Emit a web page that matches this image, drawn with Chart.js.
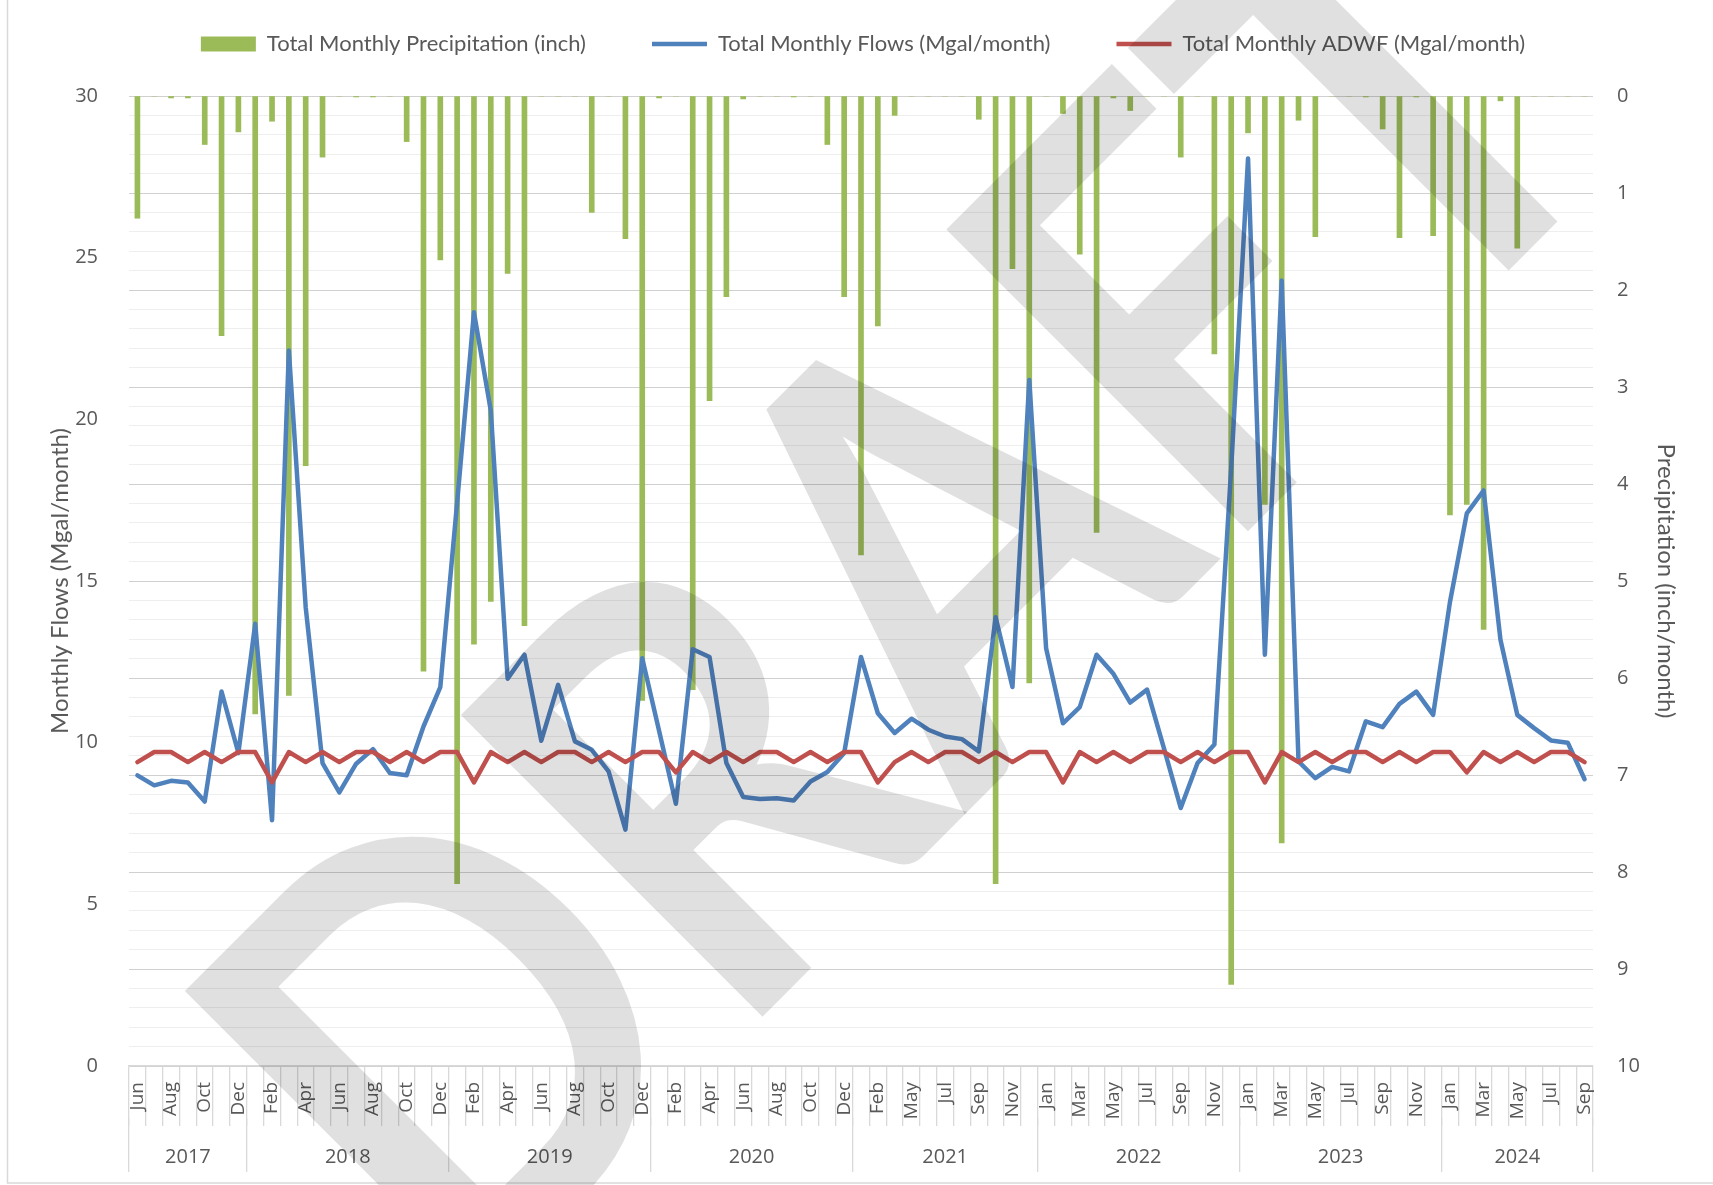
<!DOCTYPE html>
<html>
<head>
<meta charset="utf-8">
<title>Monthly Flows and Precipitation</title>
<script src="https://cdn.jsdelivr.net/npm/chart.js@4.4.1/dist/chart.umd.min.js"></script>
<style>
  html, body { margin: 0; padding: 0; background: #fff; }
  canvas { display: block; }
</style>
</head>
<body>
<canvas id="flowChart" width="1713" height="1185"></canvas>
<script>
// categories (2021 has no March record)
const months = [
  'Jun','Jul','Aug','Sep','Oct','Nov','Dec',
  'Jan','Feb','Mar','Apr','May','Jun','Jul','Aug','Sep','Oct','Nov','Dec',
  'Jan','Feb','Mar','Apr','May','Jun','Jul','Aug','Sep','Oct','Nov','Dec',
  'Jan','Feb','Mar','Apr','May','Jun','Jul','Aug','Sep','Oct','Nov','Dec',
  'Jan','Feb','Apr','May','Jun','Jul','Aug','Sep','Oct','Nov','Dec',
  'Jan','Feb','Mar','Apr','May','Jun','Jul','Aug','Sep','Oct','Nov','Dec',
  'Jan','Feb','Mar','Apr','May','Jun','Jul','Aug','Sep','Oct','Nov','Dec',
  'Jan','Feb','Mar','Apr','May','Jun','Jul','Aug','Sep'
];
const yearLabels = ['2017','2018','2019','2020','2021','2022','2023','2024'];
const yearMonthCounts = [7, 12, 12, 12, 11, 12, 12, 9];

// series
const precipitation = [
  1.26, 0, 0.02, 0.02, 0.5, 2.47, 0.37,
  6.37, 0.26, 6.18, 3.81, 0.63, 0, 0.01, 0.01, 0, 0.47, 5.93, 1.69,
  8.12, 5.65, 5.21, 1.83, 5.46, 0, 0, 0, 1.2, 0, 1.47, 6.23,
  0.02, 0, 6.12, 3.14, 2.07, 0.03, 0, 0, 0.01, 0, 0.5, 2.07,
  4.73, 2.37, 0.2, 0, 0, 0, 0, 0.24, 8.12, 1.78, 6.05,
  0, 0.18, 1.63, 4.5, 0.02, 0.15, 0, 0, 0.63, 0, 2.66, 9.16,
  0.38, 4.21, 7.7, 0.25, 1.45, 0, 0, 0.01, 0.34, 1.46, 0.01, 1.44,
  4.32, 4.21, 5.5, 0.05, 1.57, 0, 0, 0, 0
];
const monthlyFlows = [
  8.99, 8.68, 8.82, 8.77, 8.18, 11.58, 9.68,
  13.68, 7.6, 22.13, 14.19, 9.37, 8.46, 9.35, 9.8, 9.06, 8.99, 10.5, 11.72,
  17.43, 23.31, 20.27, 11.98, 12.72, 10.06, 11.79, 10.04, 9.78, 9.11, 7.31, 12.61,
  10.37, 8.11, 12.89, 12.65, 9.37, 8.32, 8.26, 8.28, 8.21, 8.8, 9.09, 9.68,
  12.65, 10.91, 10.3, 10.74, 10.4, 10.19, 10.11, 9.73, 13.88, 11.72, 21.22,
  12.92, 10.6, 11.1, 12.72, 12.13, 11.24, 11.64, 9.83, 7.98, 9.37, 9.94, 18.5,
  28.07, 12.72, 24.29, 9.42, 8.9, 9.25, 9.11, 10.66, 10.48, 11.2, 11.58, 10.86,
  14.35, 17.09, 17.8, 13.18, 10.86, 10.45, 10.07, 10.0, 8.87
];
const monthlyADWF = [
  9.40, 9.71, 9.71, 9.40, 9.71, 9.40, 9.71,
  9.71, 8.77, 9.71, 9.40, 9.71, 9.40, 9.71, 9.71, 9.40, 9.71, 9.40, 9.71,
  9.71, 8.77, 9.71, 9.40, 9.71, 9.40, 9.71, 9.71, 9.40, 9.71, 9.40, 9.71,
  9.71, 9.08, 9.71, 9.40, 9.71, 9.40, 9.71, 9.71, 9.40, 9.71, 9.40, 9.71,
  9.71, 8.77, 9.40, 9.71, 9.40, 9.71, 9.71, 9.40, 9.71, 9.40, 9.71,
  9.71, 8.77, 9.71, 9.40, 9.71, 9.40, 9.71, 9.71, 9.40, 9.71, 9.40, 9.71,
  9.71, 8.77, 9.71, 9.40, 9.71, 9.40, 9.71, 9.71, 9.40, 9.71, 9.40, 9.71,
  9.71, 9.08, 9.71, 9.40, 9.71, 9.40, 9.71, 9.71, 9.40
];

// axis ranges
const flowAxisMax = 30;
const flowAxisStep = 5;
const precipAxisMax = 10;
const precipGridStep = 0.2;

const textGray = '#595959';
const lineGray = '#d9d9d9';

// year boundaries / centres on the index axis
const yearBounds = [-0.5];
const yearCentres = {};
let start = 0;
yearMonthCounts.forEach((n, i) => {
  yearCentres[(start + start + n - 1) / 2] = yearLabels[i];
  start += n;
  yearBounds.push(start - 0.5);
});
const isBound = v => yearBounds.some(b => Math.abs(b - v) < 1e-6);
const isWhole = v => Math.abs(v - Math.round(v)) < 1e-6;

const legendSpace = {
  id: 'legendSpace',
  beforeInit(chart) {
    const fit = chart.legend.fit;
    chart.legend.fit = function() {
      fit.bind(chart.legend)();
      this.height = 129;
    };
  }
};

const chartFrame = {
  id: 'chartFrame',
  beforeDraw(chart) {
    const c = chart.ctx;
    c.save();
    c.fillStyle = '#fff';
    c.fillRect(0, 0, chart.width, chart.height);
    c.strokeStyle = lineGray;
    c.lineWidth = 1.5;
    c.strokeRect(7.5, -10, chart.width + 20, 1193);
    c.restore();
  },
  afterDraw(chart) {
    // DRAFT watermark
    const c = chart.ctx;
    c.save();
    c.translate(915, 595);
    c.rotate(-45 * Math.PI / 180);
    c.scale(0.87, 1);
    c.font = 'bold 590px Lato';
    c.fillStyle = 'rgba(0,0,0,0.12)';
    c.textAlign = 'center';
    c.textBaseline = 'middle';
    c.fillText('DRAFT', 0, 0);
    c.restore();
  }
};

Chart.defaults.font.family = 'Open Sans';
Chart.defaults.color = textGray;

const ctx = document.getElementById('flowChart').getContext('2d');
new Chart(ctx, {
  type: 'bar',
  data: {
    labels: months,
    datasets: [
      {
        type: 'bar',
        label: 'Total Monthly Precipitation (inch)',
        data: precipitation,
        xAxisID: 'x',
        yAxisID: 'y2',
        backgroundColor: '#9bbb59',
        borderWidth: 0,
        barThickness: 5,
        pointStyle: 'rect',
        order: 3
      },
      {
        type: 'line',
        label: 'Total Monthly Flows (Mgal/month)',
        data: monthlyFlows,
        xAxisID: 'x',
        yAxisID: 'y',
        borderColor: '#4f81bd',
        backgroundColor: '#4f81bd',
        borderWidth: 4.5,
        borderJoinStyle: 'round',
        borderCapStyle: 'round',
        pointRadius: 0,
        pointStyle: 'line',
        tension: 0,
        order: 2
      },
      {
        type: 'line',
        label: 'Total Monthly ADWF (Mgal/month)',
        data: monthlyADWF,
        xAxisID: 'x',
        yAxisID: 'y',
        borderColor: '#c0504d',
        backgroundColor: '#c0504d',
        borderWidth: 4.5,
        borderJoinStyle: 'round',
        borderCapStyle: 'round',
        pointRadius: 0,
        pointStyle: 'line',
        tension: 0,
        order: 1
      }
    ]
  },
  options: {
    responsive: false,
    animation: false,
    layout: { padding: { left: 42, right: 29, top: -33, bottom: 7 } },
    plugins: {
      tooltip: { enabled: false },
      legend: {
        position: 'top',
        labels: {
          font: { family: 'Lato', size: 22 },
          color: textGray,
          usePointStyle: true,
          pointStyleWidth: 55,
          boxHeight: 15,
          padding: 66,
          sort: (a, b) => a.datasetIndex - b.datasetIndex
        }
      }
    },
    scales: {
      x: {
        type: 'category',
        position: 'bottom',
        weight: 0,
        offset: true,
        grid: {
          offset: true,
          drawOnChartArea: false,
          drawTicks: true,
          tickLength: 60,
          color: lineGray,
          lineWidth: 1.3
        },
        border: { display: true, color: lineGray, width: 1.3 },
        ticks: {
          autoSkip: false,
          minRotation: 90,
          maxRotation: 90,
          padding: -44,
          font: { size: 19 },
          color: textGray,
          callback: (v, i) => (i % 2 === 0 ? months[i] : '')
        },
        afterFit: s => { s.height = 52; }
      },
      x2: {
        type: 'linear',
        position: 'bottom',
        weight: 1,
        offset: false,
        min: -0.5,
        max: months.length - 0.5,
        grid: {
          offset: false,
          drawOnChartArea: false,
          drawTicks: true,
          tickLength: 54,
          lineWidth: 1.3,
          color: c => (c.tick && isBound(c.tick.value) ? lineGray : 'rgba(0,0,0,0)')
        },
        border: { display: false },
        ticks: {
          autoSkip: false,
          maxRotation: 0,
          padding: -27,
          font: { size: 20 },
          color: textGray,
          callback: v => yearCentres[v] || ''
        },
        afterBuildTicks: axis => {
          const vals = yearBounds.concat(Object.keys(yearCentres).map(Number));
          vals.sort((a, b) => a - b);
          axis.ticks = vals.map(v => ({ value: v }));
        },
        afterFit: s => { s.height = 60; }
      },
      y: {
        position: 'left',
        min: 0,
        max: flowAxisMax,
        ticks: { stepSize: flowAxisStep, padding: 23, font: { size: 20 }, color: textGray },
        grid: { display: false },
        border: { display: false },
        title: {
          display: true,
          text: 'Monthly Flows (Mgal/month)',
          font: { family: 'Lato', size: 24 },
          color: textGray
        },
        afterFit: s => { s.width = 87; }
      },
      y2: {
        position: 'right',
        reverse: true,
        min: 0,
        max: precipAxisMax,
        ticks: {
          stepSize: precipGridStep,
          autoSkip: false,
          padding: 24,
          font: { size: 20 },
          color: textGray,
          callback: v => (isWhole(v) ? Math.round(v) : '')
        },
        grid: {
          drawTicks: false,
          lineWidth: 1,
          color: c => (c.tick && isWhole(c.tick.value) ? '#d0d0d0' : '#eeeeee')
        },
        border: { display: false },
        title: {
          display: true,
          text: 'Precipitation (inch/month)',
          font: { family: 'Lato', size: 24 },
          color: textGray
        },
        afterFit: s => { s.width = 91; }
      }
    }
  },
  plugins: [legendSpace, chartFrame]
});
</script>
</body>
</html>
